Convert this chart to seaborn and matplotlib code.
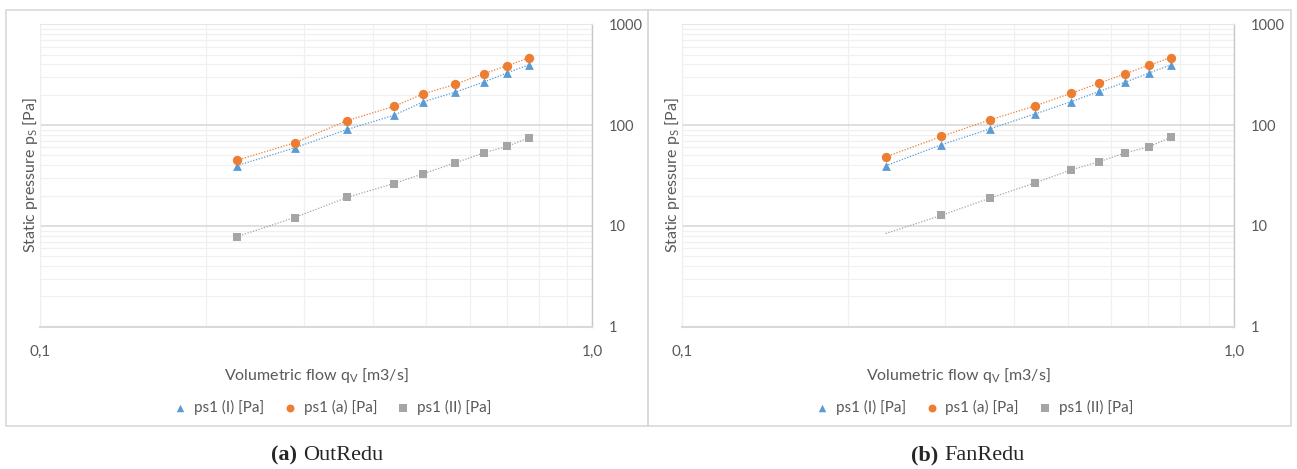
#! /usr/bin/env python
"""
Static pressure vs volumetric flow for two reduction cases (log-log)
"""

import matplotlib
matplotlib.use("Agg")
import matplotlib.pyplot as plt
import matplotlib.ticker as mticker
from matplotlib.patches import Rectangle
import pandas as pd
import seaborn as sns

# panel (a) OutRedu
flow_a = [0.227, 0.289, 0.360, 0.437, 0.494, 0.564, 0.636, 0.702, 0.767]
ps1_I_a = [39.5, 59.4, 90.6, 125, 170, 212, 267, 331, 395]
ps1_a_a = [44.7, 66.7, 111, 153, 204, 253, 324, 389, 464]
ps1_II_a = [7.8, 12.1, 19.2, 26.3, 32.9, 42.1, 53.0, 61.7, 74.8]

# panel (b) FanRedu
flow_b = [0.234, 0.295, 0.362, 0.436, 0.506, 0.570, 0.636, 0.702, 0.768]
ps1_I_b = [39.5, 63.7, 92.0, 129, 170, 216, 267, 329, 395]
ps1_a_b = [48.3, 77.1, 113, 155, 206, 261, 324, 393, 468]
ps1_II_b = [8.4, 12.7, 18.9, 26.7, 35.8, 43.4, 53.0, 61.2, 75.4]
# the first grey point of panel (b) has no marker, only the dotted line
hide_first_II_b = True

series_names = ["ps1 (I) [Pa]", "ps1 (a) [Pa]", "ps1 (II) [Pa]"]
colors = ["#5B9BD5", "#ED7D31", "#A5A5A5"]
markers = ["^", "o", "s"]
marker_sizes = [40, 45, 36]

captions = [("(a)", "OutRedu"), ("(b)", "FanRedu")]

TEXT_COLOR = "#595959"

sns.set_style("white")
plt.rcParams["font.family"] = ["Lato", "DejaVu Sans"]
plt.rcParams["mathtext.fontset"] = "custom"
plt.rcParams["mathtext.rm"] = "Lato"
plt.rcParams["mathtext.it"] = "Lato:italic"


def build_frame(flow, values):
    rows = []
    for name, vals in zip(series_names, values):
        for q, p in zip(flow, vals):
            rows.append({"flow": q, "pressure": p, "series": name})
    return pd.DataFrame(rows)


def draw_panel(ax, df, hide_first_grey):
    for name, color, marker, size in zip(series_names, colors, markers, marker_sizes):
        sub = df[df["series"] == name]
        sns.lineplot(data=sub, x="flow", y="pressure", ax=ax, color=color,
                     linewidth=0.9, dashes=False, legend=False, zorder=3)
        ax.lines[-1].set_linestyle((0, (1, 1.3)))
        pts = sub
        if hide_first_grey and name == series_names[2]:
            pts = sub.iloc[1:]
        sns.scatterplot(data=pts, x="flow", y="pressure", ax=ax, color=color,
                        marker=marker, s=size, linewidth=0, label=name, zorder=4)

    ax.set_xscale("log")
    ax.set_yscale("log")
    ax.set_xlim(0.1, 1.0)
    ax.set_ylim(1, 1000)

    ax.yaxis.tick_right()
    ax.yaxis.set_label_position("left")
    ax.set_yticks([1, 10, 100, 1000])
    ax.yaxis.set_major_formatter(mticker.FuncFormatter(lambda v, p: f"{v:g}"))
    ax.yaxis.set_minor_locator(mticker.LogLocator(base=10, subs=range(2, 10)))
    ax.yaxis.set_minor_formatter(mticker.NullFormatter())
    ax.tick_params(axis="y", which="both", length=0, pad=12,
                   labelsize=10.5, labelcolor=TEXT_COLOR)

    ax.set_xticks([0.1, 1.0])
    ax.set_xticklabels(["0,1", "1,0"])
    ax.xaxis.set_minor_locator(mticker.LogLocator(base=10, subs=range(2, 10)))
    ax.xaxis.set_minor_formatter(mticker.NullFormatter())
    ax.tick_params(axis="x", which="both", direction="out", length=5,
                   color="#d9d9d9", width=1, pad=8, labelsize=11,
                   labelcolor=TEXT_COLOR)

    ax.grid(True, axis="y", which="major", color="#d9d9d9", linewidth=1.2)
    ax.grid(True, axis="y", which="minor", color="#f0f0f0", linewidth=0.9)
    ax.grid(True, axis="x", which="minor", color="#f0f0f0", linewidth=0.9)
    ax.grid(True, axis="x", which="major", color="#eeeeee", linewidth=0.9)
    ax.set_axisbelow(True)

    ax.spines["bottom"].set_color("#d9d9d9")
    ax.spines["bottom"].set_linewidth(1.5)
    ax.spines["right"].set_color("#c8c8c8")
    ax.spines["right"].set_linewidth(1.0)
    ax.spines["top"].set_color("#e6e6e6")
    ax.spines["left"].set_color("#eeeeee")

    ax.set_xlabel("Volumetric flow q$_\\mathrm{V}$ [m3/s]", fontsize=11.5,
                  color=TEXT_COLOR, labelpad=5)
    ax.set_ylabel("Static pressure p$_\\mathrm{S}$ [Pa]", fontsize=11.5,
                  color=TEXT_COLOR, labelpad=0)

    leg = ax.legend(loc="center", bbox_to_anchor=(0.53, -0.266), ncol=3,
                    frameon=False, fontsize=11, handlelength=0.8,
                    handletextpad=0.5, columnspacing=1.3, markerscale=0.85)
    for t in leg.get_texts():
        t.set_color(TEXT_COLOR)


fig = plt.figure(figsize=(12.97, 4.69), dpi=100)
W, H = 1297, 469

panels = [
    (40, build_frame(flow_a, [ps1_I_a, ps1_a_a, ps1_II_a]), False, 6, 648),
    (681.7, build_frame(flow_b, [ps1_I_b, ps1_a_b, ps1_II_b]), hide_first_II_b, 648, 1291),
]

for i, (left_px, df, hide, box_l, box_r) in enumerate(panels):
    # chart-area frame
    fig.patches.append(Rectangle((box_l / W, 1 - 426 / H), (box_r - box_l) / W,
                                 (426 - 10) / H, transform=fig.transFigure,
                                 fill=False, edgecolor="#d9d9d9", linewidth=1.2,
                                 zorder=0))
    ax = fig.add_axes([left_px / W, 1 - 326.7 / H, 552.3 / W, 302.4 / H])
    draw_panel(ax, df, hide)

    cx = left_px + 258
    bold, rest = captions[i]
    fig.text((cx - 1) / W, 1 - 455 / H, bold, ha="right", va="center",
             fontsize=16, fontweight="bold", family="Liberation Serif")
    fig.text((cx + 5) / W, 1 - 455 / H, rest, ha="left", va="center",
             fontsize=16, family="Liberation Serif")

plt.savefig("out.png", dpi=100)
